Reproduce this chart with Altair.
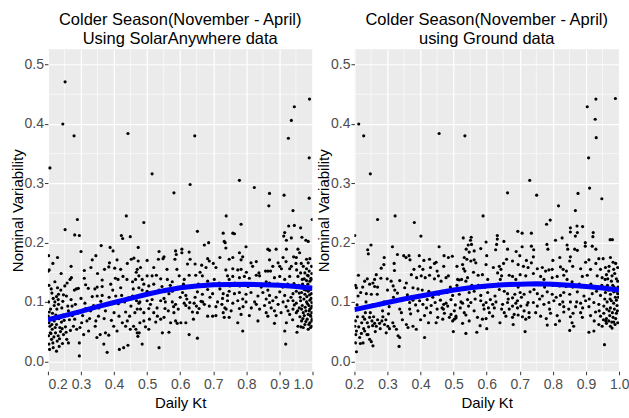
import altair as alt
import pandas as pd

# ---------------- data ----------------
title_left = ["Colder Season(November - April)", "Using SolarAnywhere data"]
title_right = ["Colder Season(November - April)", "using Ground data"]

x_ticks = [0.2, 0.3, 0.4, 0.5, 0.6, 0.7, 0.8, 0.9, 1.0]
y_ticks = [0.0, 0.1, 0.2, 0.3, 0.4, 0.5]
x_minor = [0.25, 0.35, 0.45, 0.55, 0.65, 0.75, 0.85, 0.95]
y_minor = [0.05, 0.15, 0.25, 0.35, 0.45]

fit_kt = [0.2, 0.25, 0.3, 0.35, 0.4, 0.45, 0.5, 0.55, 0.6, 0.65, 0.7, 0.75, 0.8, 0.85, 0.9, 0.95, 1.0]
sa_fit = [0.070, 0.077, 0.084, 0.092, 0.099, 0.106, 0.113, 0.119, 0.124, 0.127, 0.129, 0.1295, 0.1297, 0.129, 0.128, 0.126, 0.123]
gr_fit = [0.087, 0.093, 0.099, 0.105, 0.110, 0.115, 0.120, 0.124, 0.127, 0.129, 0.130, 0.1305, 0.130, 0.128, 0.126, 0.1235, 0.120]

sa_points = [
    (0.252, 0.471), (0.245, 0.40), (0.279, 0.38), (0.442, 0.384), (0.644, 0.38), (0.991, 0.442), (0.945, 0.429),
    (0.936, 0.406), (0.927, 0.376), (0.206, 0.326), (0.990, 0.343), (0.515, 0.316), (0.581, 0.284), (0.630, 0.298),
    (0.779, 0.305), (0.824, 0.293), (0.870, 0.283), (0.914, 0.280), (0.990, 0.275), (0.868, 0.262), (0.941, 0.254),
    (0.437, 0.245), (0.739, 0.245), (0.289, 0.239), (0.999, 0.239), (0.490, 0.234), (0.784, 0.231), (0.928, 0.228),
    (0.945, 0.229), (0.964, 0.225), (0.252, 0.222), (0.652, 0.219), (0.281, 0.213), (0.295, 0.212), (0.422, 0.212),
    (0.426, 0.207), (0.449, 0.21), (0.73, 0.216), (0.733, 0.202), (0.736, 0.2), (0.759, 0.216), (0.764, 0.215),
    (0.916, 0.217), (0.913, 0.211), (0.921, 0.204), (0.936, 0.208), (0.968, 0.209), (0.98, 0.204), (0.987, 0.202),
    (0.673, 0.196), (0.686, 0.2),
    (0.361, 0.195), (0.388, 0.192), (0.397, 0.186), (0.202, 0.178), (0.229, 0.175), (0.334, 0.171), (0.409, 0.171),
    (0.452, 0.172), (0.46, 0.174), (0.473, 0.169), (0.386, 0.166), (0.371, 0.155), (0.384, 0.159), (0.402, 0.157),
    (0.201, 0.152), (0.204, 0.154), (0.31, 0.153), (0.47, 0.155), (0.467, 0.15), (0.267, 0.138), (0.271, 0.141),
    (0.258, 0.132), (0.251, 0.127), (0.221, 0.134), (0.364, 0.137), (0.349, 0.125), (0.364, 0.126), (0.314, 0.129),
    (0.292, 0.123), (0.404, 0.14), (0.412, 0.138), (0.427, 0.143), (0.439, 0.138), (0.456, 0.134), (0.465, 0.138),
    (0.475, 0.144), (0.203, 0.128), (0.21, 0.122), (0.232, 0.113), (0.239, 0.12), (0.247, 0.112), (0.256, 0.11),
    (0.226, 0.109), (0.231, 0.104), (0.216, 0.106), (0.221, 0.1), (0.28, 0.12), (0.286, 0.122), (0.322, 0.123),
    (0.342, 0.122), (0.334, 0.109), (0.349, 0.11), (0.364, 0.111), (0.385, 0.108), (0.405, 0.11), (0.423, 0.111),
    (0.444, 0.107), (0.456, 0.11), (0.478, 0.1), (0.202, 0.1), (0.232, 0.096), (0.242, 0.09), (0.273, 0.093),
    (0.283, 0.096), (0.314, 0.089), (0.329, 0.085), (0.354, 0.09), (0.374, 0.085), (0.4, 0.082), (0.415, 0.076),
    (0.435, 0.083), (0.447, 0.076), (0.47, 0.088), (0.201, 0.076), (0.209, 0.072), (0.219, 0.068), (0.203, 0.065),
    (0.206, 0.059), (0.226, 0.062), (0.236, 0.057), (0.213, 0.054), (0.223, 0.048), (0.202, 0.043), (0.211, 0.037),
    (0.231, 0.043), (0.247, 0.045), (0.257, 0.037), (0.262, 0.031), (0.203, 0.029), (0.216, 0.023), (0.226, 0.017),
    (0.205, 0.02), (0.277, 0.059), (0.287, 0.054), (0.302, 0.065), (0.318, 0.068), (0.308, 0.045), (0.323, 0.051),
    (0.295, 0.031), (0.348, 0.04), (0.358, 0.045), (0.374, 0.048), (0.384, 0.044), (0.369, 0.029), (0.379, 0.015),
    (0.399, 0.059), (0.409, 0.051), (0.425, 0.065), (0.435, 0.059), (0.416, 0.02), (0.429, 0.023), (0.442, 0.027),
    (0.449, 0.054), (0.459, 0.059), (0.47, 0.048), (0.295, 0.009), (0.343, 0.059), (0.353, 0.076),
    (0.208, 0.088), (0.214, 0.081), (0.224, 0.078), (0.233, 0.072), (0.241, 0.066), (0.218, 0.041), (0.228, 0.034),
    (0.238, 0.05), (0.212, 0.062), (0.246, 0.078), (0.253, 0.058), (0.265, 0.07), (0.207, 0.048), (0.219, 0.094),
    (0.262, 0.085), (0.244, 0.03), (0.234, 0.025),
    (0.473, 0.192), (0.536, 0.185), (0.534, 0.172), (0.551, 0.176), (0.548, 0.173), (0.586, 0.186), (0.588, 0.18),
    (0.584, 0.172), (0.605, 0.189), (0.605, 0.183), (0.627, 0.184), (0.683, 0.173), (0.688, 0.169), (0.622, 0.164),
    (0.645, 0.164), (0.665, 0.162), (0.678, 0.158), (0.708, 0.158), (0.738, 0.154), (0.48, 0.158), (0.5, 0.144),
    (0.515, 0.144), (0.528, 0.145), (0.541, 0.139), (0.485, 0.138), (0.49, 0.13), (0.561, 0.138), (0.576, 0.134),
    (0.597, 0.144), (0.612, 0.138), (0.627, 0.145), (0.647, 0.145), (0.667, 0.144), (0.683, 0.135), (0.703, 0.138),
    (0.718, 0.132), (0.743, 0.144), (0.748, 0.138), (0.475, 0.124), (0.485, 0.12), (0.505, 0.127), (0.525, 0.116),
    (0.536, 0.12), (0.566, 0.114), (0.576, 0.118), (0.607, 0.116), (0.617, 0.111), (0.652, 0.117), (0.667, 0.113),
    (0.683, 0.121), (0.698, 0.114), (0.73, 0.114), (0.743, 0.111), (0.468, 0.102), (0.475, 0.098), (0.5, 0.102),
    (0.515, 0.104), (0.541, 0.102), (0.551, 0.106), (0.576, 0.1), (0.586, 0.096), (0.612, 0.098), (0.617, 0.094),
    (0.629, 0.099), (0.642, 0.098), (0.649, 0.093), (0.663, 0.101), (0.673, 0.096), (0.688, 0.093), (0.708, 0.092),
    (0.726, 0.096), (0.735, 0.09), (0.48, 0.088), (0.49, 0.082), (0.505, 0.089), (0.52, 0.082), (0.531, 0.076),
    (0.554, 0.089), (0.564, 0.085), (0.581, 0.082), (0.594, 0.088), (0.627, 0.09), (0.637, 0.083), (0.652, 0.082),
    (0.657, 0.089), (0.683, 0.076), (0.698, 0.076), (0.708, 0.077), (0.73, 0.082), (0.733, 0.074), (0.478, 0.065),
    (0.49, 0.068), (0.507, 0.071), (0.526, 0.066), (0.541, 0.071), (0.551, 0.074), (0.571, 0.065), (0.586, 0.068),
    (0.591, 0.064), (0.602, 0.065), (0.495, 0.058), (0.505, 0.054), (0.476, 0.048), (0.472, 0.042), (0.546, 0.048),
    (0.566, 0.049), (0.617, 0.065), (0.64, 0.071), (0.627, 0.045), (0.652, 0.039), (0.485, 0.029), (0.536, 0.023),
    (0.466, 0.054),
    (0.738, 0.191), (0.799, 0.193), (0.865, 0.189), (0.87, 0.187), (0.89, 0.189), (0.921, 0.189), (0.956, 0.189),
    (0.961, 0.183), (0.779, 0.183), (0.759, 0.175), (0.748, 0.172), (0.789, 0.176), (0.784, 0.171), (0.87, 0.171),
    (0.911, 0.175), (0.943, 0.176), (0.951, 0.175), (0.982, 0.172), (0.987, 0.166), (0.992, 0.173), (0.814, 0.166),
    (0.819, 0.16), (0.83, 0.168), (0.896, 0.166), (0.901, 0.16), (0.906, 0.156), (0.931, 0.156), (0.936, 0.16),
    (0.972, 0.16), (0.982, 0.156), (0.997, 0.16), (0.759, 0.156), (0.774, 0.154), (0.784, 0.155), (0.838, 0.149),
    (0.84, 0.144), (0.858, 0.152), (0.865, 0.152), (0.873, 0.152), (0.759, 0.143), (0.779, 0.141), (0.794, 0.143),
    (0.809, 0.14), (0.885, 0.141), (0.901, 0.143), (0.916, 0.138), (0.931, 0.143), (0.956, 0.143), (0.977, 0.149),
    (0.987, 0.144), (0.998, 0.148), (0.969, 0.138), (0.992, 0.135), (0.997, 0.138), (0.86, 0.134), (0.87, 0.132),
    (0.748, 0.118), (0.764, 0.114), (0.779, 0.116), (0.799, 0.113), (0.814, 0.116), (0.85, 0.116), (0.87, 0.111),
    (0.901, 0.117), (0.916, 0.111), (0.941, 0.114), (0.951, 0.118), (0.967, 0.116), (0.977, 0.113), (0.987, 0.118),
    (0.997, 0.114), (0.993, 0.121), (0.743, 0.102), (0.759, 0.098), (0.774, 0.102), (0.789, 0.105), (0.799, 0.1),
    (0.825, 0.1), (0.83, 0.096), (0.86, 0.105), (0.87, 0.099), (0.88, 0.102), (0.896, 0.096), (0.911, 0.1),
    (0.926, 0.102), (0.941, 0.102), (0.951, 0.098), (0.964, 0.102), (0.974, 0.105), (0.982, 0.1), (0.992, 0.103),
    (0.998, 0.099), (0.996, 0.106), (0.739, 0.088), (0.754, 0.085), (0.779, 0.089), (0.784, 0.079), (0.809, 0.077),
    (0.84, 0.088), (0.86, 0.082), (0.865, 0.076), (0.885, 0.085), (0.89, 0.077), (0.926, 0.085), (0.931, 0.079),
    (0.941, 0.088), (0.951, 0.082), (0.967, 0.088), (0.972, 0.082), (0.98, 0.085), (0.987, 0.079), (0.992, 0.088),
    (0.998, 0.082), (0.995, 0.076), (0.774, 0.065), (0.789, 0.051), (0.835, 0.068), (0.885, 0.064), (0.916, 0.051),
    (0.921, 0.065), (0.953, 0.049), (0.956, 0.059), (0.967, 0.068), (0.977, 0.062), (0.984, 0.071), (0.992, 0.065),
    (0.997, 0.059), (0.999, 0.071), (0.972, 0.057), (0.987, 0.054), (0.994, 0.057), (0.919, 0.029), (0.748, 0.074),
    (0.958, 0.128), (0.963, 0.108), (0.969, 0.094), (0.975, 0.121), (0.978, 0.091), (0.983, 0.109), (0.986, 0.13),
    (0.989, 0.094), (0.991, 0.112), (0.994, 0.125), (0.996, 0.09), (0.998, 0.068), (0.962, 0.075), (0.971, 0.072),
    (0.98, 0.067), (0.989, 0.062), (0.985, 0.097), (0.993, 0.078), (0.96, 0.09), (0.975, 0.139), (0.952, 0.154),
    (0.966, 0.165), (0.99, 0.152), (0.944, 0.131),
]

# points hidden in the densest part of the SolarAnywhere cloud (estimated)
sa_points_dense = [
    (0.204, 0.083), (0.209, 0.047), (0.215, 0.031), (0.222, 0.057), (0.227, 0.088), (0.235, 0.038), (0.243, 0.055),
    (0.249, 0.069), (0.255, 0.049), (0.26, 0.093), (0.268, 0.052), (0.274, 0.077), (0.281, 0.071), (0.29, 0.081),
    (0.297, 0.057), (0.212, 0.115), (0.229, 0.124), (0.245, 0.101), (0.27, 0.104), (0.3, 0.106), (0.305, 0.077),
    (0.312, 0.098), (0.326, 0.072), (0.338, 0.094), (0.345, 0.068), (0.36, 0.101), (0.37, 0.072), (0.381, 0.097),
    (0.392, 0.069), (0.396, 0.12), (0.413, 0.097), (0.42, 0.124), (0.432, 0.1), (0.44, 0.068), (0.451, 0.093),
    (0.458, 0.122), (0.463, 0.082), (0.31, 0.14), (0.33, 0.158), (0.35, 0.148), (0.39, 0.13), (0.42, 0.155),
    (0.44, 0.165), (0.345, 0.178), (0.3, 0.185), (0.27, 0.16), (0.24, 0.148), (0.215, 0.165),
    (0.5, 0.118), (0.51, 0.096), (0.52, 0.13), (0.53, 0.09), (0.545, 0.126), (0.555, 0.1), (0.57, 0.128),
    (0.58, 0.092), (0.59, 0.122), (0.6, 0.108), (0.61, 0.13), (0.62, 0.105), (0.635, 0.126), (0.645, 0.108),
    (0.655, 0.13), (0.668, 0.1), (0.675, 0.127), (0.69, 0.108), (0.7, 0.13), (0.713, 0.1), (0.72, 0.122),
    (0.728, 0.106), (0.56, 0.155), (0.59, 0.155), (0.63, 0.172), (0.66, 0.15), (0.7, 0.165), (0.72, 0.175),
    (0.52, 0.158), (0.5, 0.17),
    (0.75, 0.127), (0.765, 0.132), (0.78, 0.127), (0.79, 0.092), (0.805, 0.126), (0.815, 0.09), (0.825, 0.13),
    (0.835, 0.11), (0.845, 0.125), (0.855, 0.094), (0.865, 0.12), (0.875, 0.09), (0.88, 0.128), (0.89, 0.108),
    (0.895, 0.13), (0.905, 0.082), (0.91, 0.125), (0.92, 0.092), (0.925, 0.13), (0.935, 0.108), (0.94, 0.07),
    (0.945, 0.095), (0.95, 0.125), (0.955, 0.085), (0.96, 0.115), (0.965, 0.058), (0.97, 0.13), (0.975, 0.077),
    (0.98, 0.12), (0.985, 0.145), (0.99, 0.085), (0.995, 0.14), (0.999, 0.093), (0.964, 0.149), (0.982, 0.136),
    (0.8, 0.15), (0.83, 0.145), (0.88, 0.16), (0.92, 0.168), (0.95, 0.165),
]

gr_points = [
    (0.213, 0.40), (0.228, 0.38), (0.456, 0.384), (0.534, 0.38), (0.904, 0.429), (0.93, 0.442), (0.989, 0.443),
    (0.928, 0.408), (0.931, 0.377), (0.908, 0.343), (0.248, 0.316), (0.73, 0.305), (0.911, 0.292), (0.663, 0.284),
    (0.876, 0.283), (0.751, 0.28), (0.948, 0.274), (0.817, 0.262), (0.868, 0.254), (0.27, 0.239), (0.323, 0.245),
    (0.589, 0.245), (0.381, 0.234), (0.792, 0.238), (0.781, 0.231), (0.873, 0.228), (0.89, 0.227), (0.853, 0.225),
    (0.853, 0.218), (0.921, 0.21), (0.201, 0.212), (0.401, 0.211), (0.632, 0.212), (0.632, 0.206), (0.694, 0.219),
    (0.707, 0.216), (0.735, 0.216), (0.553, 0.209), (0.551, 0.204), (0.529, 0.208), (0.808, 0.204), (0.874, 0.217),
    (0.868, 0.211), (0.98, 0.205), (0.315, 0.193), (0.24, 0.188), (0.242, 0.181), (0.25, 0.196), (0.456, 0.193),
    (0.538, 0.189), (0.544, 0.196), (0.554, 0.197), (0.63, 0.197), (0.627, 0.188), (0.652, 0.202), (0.707, 0.193),
    (0.689, 0.185), (0.735, 0.194), (0.742, 0.188), (0.782, 0.197), (0.785, 0.189), (0.843, 0.196), (0.845, 0.189),
    (0.866, 0.189), (0.898, 0.2), (0.898, 0.194), (0.93, 0.189), (0.973, 0.205), (0.349, 0.178), (0.356, 0.175),
    (0.365, 0.178), (0.368, 0.171), (0.396, 0.178), (0.471, 0.178), (0.484, 0.175), (0.496, 0.177),
    (0.828, 0.208), (0.874, 0.187), (0.919, 0.194), (0.922, 0.217),
    (0.821, 0.175), (0.853, 0.176), (0.851, 0.169), (0.899, 0.167), (0.909, 0.171), (0.939, 0.173), (0.952, 0.173),
    (0.974, 0.175), (0.982, 0.167), (0.741, 0.176), (0.753, 0.156), (0.768, 0.158), (0.778, 0.152), (0.788, 0.154),
    (0.798, 0.155), (0.823, 0.159), (0.831, 0.155), (0.841, 0.152), (0.884, 0.156), (0.914, 0.155), (0.944, 0.155),
    (0.959, 0.158), (0.969, 0.152), (0.984, 0.155), (0.996, 0.158), (0.763, 0.143), (0.773, 0.138), (0.798, 0.141),
    (0.813, 0.143), (0.833, 0.145), (0.843, 0.138), (0.858, 0.134), (0.889, 0.143), (0.904, 0.145), (0.934, 0.144),
    (0.949, 0.141), (0.966, 0.139), (0.979, 0.144), (0.992, 0.139), (0.996, 0.135), (0.743, 0.121), (0.753, 0.114),
    (0.768, 0.11), (0.783, 0.117), (0.798, 0.113), (0.823, 0.111), (0.833, 0.116), (0.851, 0.113), (0.874, 0.117),
    (0.894, 0.11), (0.919, 0.114), (0.932, 0.118), (0.944, 0.111), (0.959, 0.116), (0.974, 0.113), (0.984, 0.117),
    (0.996, 0.114), (0.741, 0.099), (0.753, 0.093), (0.773, 0.096), (0.788, 0.099), (0.803, 0.102), (0.821, 0.096),
    (0.833, 0.092), (0.853, 0.1), (0.869, 0.092), (0.884, 0.098), (0.899, 0.102), (0.909, 0.092), (0.924, 0.099),
    (0.939, 0.096), (0.954, 0.093), (0.964, 0.1), (0.974, 0.09), (0.984, 0.098), (0.992, 0.103), (0.748, 0.082),
    (0.763, 0.076), (0.793, 0.081), (0.813, 0.077), (0.833, 0.083), (0.853, 0.075), (0.861, 0.081), (0.884, 0.082),
    (0.889, 0.074), (0.914, 0.077), (0.929, 0.083), (0.944, 0.076), (0.954, 0.081), (0.962, 0.072), (0.972, 0.077),
    (0.982, 0.074), (0.992, 0.081), (0.783, 0.061), (0.808, 0.062), (0.858, 0.065), (0.863, 0.059), (0.909, 0.049),
    (0.924, 0.051), (0.851, 0.052), (0.939, 0.062), (0.949, 0.059), (0.962, 0.064), (0.974, 0.059), (0.984, 0.066),
    (0.996, 0.065), (0.956, 0.028), (0.969, 0.068), (0.979, 0.056),
    (0.427, 0.172), (0.442, 0.165), (0.447, 0.167), (0.289, 0.163), (0.281, 0.157), (0.266, 0.146), (0.261, 0.138),
    (0.321, 0.153), (0.397, 0.16), (0.407, 0.155), (0.203, 0.128), (0.206, 0.124), (0.231, 0.135), (0.239, 0.139),
    (0.246, 0.13), (0.256, 0.132), (0.261, 0.126), (0.219, 0.116), (0.211, 0.11), (0.236, 0.114), (0.251, 0.113),
    (0.269, 0.113), (0.299, 0.139), (0.311, 0.135), (0.337, 0.136), (0.317, 0.127), (0.322, 0.12), (0.357, 0.132),
    (0.352, 0.124), (0.377, 0.124), (0.392, 0.122), (0.402, 0.144), (0.414, 0.141), (0.427, 0.145), (0.442, 0.139),
    (0.454, 0.144), (0.462, 0.135), (0.342, 0.102), (0.367, 0.099), (0.377, 0.103), (0.397, 0.102), (0.407, 0.096),
    (0.42, 0.104), (0.432, 0.094), (0.444, 0.099), (0.46, 0.103), (0.47, 0.096), (0.337, 0.088), (0.342, 0.082),
    (0.367, 0.088), (0.392, 0.085), (0.412, 0.077), (0.43, 0.082), (0.452, 0.074), (0.226, 0.075), (0.231, 0.071),
    (0.239, 0.065), (0.246, 0.074), (0.253, 0.068), (0.261, 0.064), (0.266, 0.059), (0.276, 0.064), (0.283, 0.068),
    (0.291, 0.062), (0.301, 0.059), (0.203, 0.068), (0.201, 0.059), (0.206, 0.051), (0.221, 0.047), (0.231, 0.051),
    (0.241, 0.045), (0.216, 0.04), (0.203, 0.031), (0.226, 0.031), (0.246, 0.037), (0.251, 0.033), (0.206, 0.016),
    (0.256, 0.026), (0.316, 0.065), (0.32, 0.059), (0.327, 0.054), (0.332, 0.043), (0.337, 0.04), (0.335, 0.025),
    (0.357, 0.062), (0.362, 0.057), (0.377, 0.059), (0.387, 0.054), (0.412, 0.04), (0.424, 0.065), (0.447, 0.065),
    (0.467, 0.071), (0.296, 0.048), (0.306, 0.055), (0.29, 0.1), (0.305, 0.092), (0.318, 0.108), (0.275, 0.095),
    (0.285, 0.085), (0.208, 0.095), (0.215, 0.088), (0.372, 0.146), (0.388, 0.141),
    (0.547, 0.184), (0.562, 0.186), (0.582, 0.19), (0.598, 0.201), (0.663, 0.189), (0.532, 0.175), (0.54, 0.172),
    (0.552, 0.169), (0.562, 0.171), (0.567, 0.166), (0.527, 0.163), (0.53, 0.156), (0.534, 0.152), (0.598, 0.163),
    (0.638, 0.16), (0.643, 0.155), (0.651, 0.165), (0.678, 0.169), (0.695, 0.163), (0.711, 0.16), (0.725, 0.158),
    (0.735, 0.166), (0.477, 0.141), (0.484, 0.144), (0.512, 0.138), (0.517, 0.137), (0.524, 0.138), (0.537, 0.135),
    (0.542, 0.141), (0.574, 0.145), (0.587, 0.146), (0.603, 0.138), (0.633, 0.149), (0.641, 0.138), (0.645, 0.144),
    (0.668, 0.145), (0.678, 0.143), (0.688, 0.138), (0.701, 0.146), (0.718, 0.144), (0.741, 0.148), (0.467, 0.118),
    (0.48, 0.116), (0.497, 0.111), (0.517, 0.113), (0.547, 0.116), (0.562, 0.118), (0.582, 0.111), (0.603, 0.116),
    (0.638, 0.121), (0.653, 0.118), (0.663, 0.114), (0.678, 0.107), (0.701, 0.116), (0.713, 0.113), (0.731, 0.117),
    (0.477, 0.098), (0.492, 0.104), (0.522, 0.1), (0.527, 0.098), (0.542, 0.104), (0.552, 0.099), (0.582, 0.102),
    (0.598, 0.099), (0.611, 0.104), (0.618, 0.096), (0.628, 0.1), (0.648, 0.096), (0.663, 0.099), (0.678, 0.093),
    (0.688, 0.098), (0.693, 0.102), (0.703, 0.093), (0.725, 0.099), (0.482, 0.093), (0.469, 0.088), (0.502, 0.085),
    (0.507, 0.076), (0.492, 0.079), (0.532, 0.082), (0.562, 0.085), (0.592, 0.088), (0.608, 0.082), (0.623, 0.09),
    (0.653, 0.082), (0.668, 0.088), (0.683, 0.079), (0.693, 0.09), (0.713, 0.085), (0.728, 0.082), (0.502, 0.071),
    (0.497, 0.068), (0.507, 0.073), (0.487, 0.074), (0.547, 0.068), (0.527, 0.064), (0.537, 0.078), (0.572, 0.074),
    (0.587, 0.071), (0.598, 0.072), (0.618, 0.076), (0.658, 0.076), (0.678, 0.074), (0.695, 0.078), (0.708, 0.075),
    (0.718, 0.071), (0.728, 0.074), (0.499, 0.05), (0.537, 0.047), (0.57, 0.049), (0.716, 0.05), (0.472, 0.081),
    (0.957, 0.105), (0.965, 0.128), (0.97, 0.085), (0.977, 0.102), (0.981, 0.128), (0.986, 0.088), (0.989, 0.108),
    (0.994, 0.094), (0.997, 0.125), (0.96, 0.068), (0.978, 0.066), (0.99, 0.072), (0.962, 0.146), (0.987, 0.148),
]

# points hidden in the densest part of the ground-data cloud (estimated)
gr_points_dense = [
    (0.204, 0.045), (0.209, 0.075), (0.213, 0.058), (0.218, 0.03), (0.222, 0.065), (0.228, 0.055), (0.233, 0.082),
    (0.238, 0.045), (0.243, 0.058), (0.248, 0.082), (0.255, 0.06), (0.258, 0.075), (0.263, 0.05), (0.27, 0.07),
    (0.278, 0.055), (0.286, 0.075), (0.295, 0.07), (0.303, 0.08), (0.212, 0.145), (0.225, 0.125), (0.235, 0.1),
    (0.255, 0.095), (0.27, 0.125), (0.28, 0.14), (0.3, 0.12), (0.33, 0.115), (0.345, 0.07), (0.36, 0.112),
    (0.37, 0.08), (0.385, 0.095), (0.4, 0.07), (0.405, 0.12), (0.418, 0.09), (0.425, 0.118), (0.437, 0.108),
    (0.45, 0.088), (0.455, 0.113), (0.465, 0.09), (0.32, 0.165), (0.33, 0.18), (0.38, 0.155), (0.41, 0.17),
    (0.43, 0.158), (0.45, 0.152), (0.47, 0.16), (0.29, 0.175),
    (0.49, 0.125), (0.505, 0.095), (0.51, 0.128), (0.52, 0.09), (0.535, 0.122), (0.545, 0.093), (0.555, 0.128),
    (0.565, 0.105), (0.575, 0.128), (0.59, 0.095), (0.595, 0.125), (0.605, 0.09), (0.615, 0.128), (0.625, 0.11),
    (0.635, 0.13), (0.645, 0.088), (0.655, 0.128), (0.665, 0.105), (0.675, 0.13), (0.685, 0.113), (0.695, 0.125),
    (0.705, 0.108), (0.715, 0.13), (0.722, 0.095), (0.732, 0.13), (0.51, 0.16), (0.56, 0.15), (0.6, 0.178),
    (0.62, 0.158), (0.66, 0.172), (0.7, 0.178), (0.72, 0.17), (0.58, 0.06), (0.64, 0.065), (0.68, 0.062),
    (0.6, 0.055),
    (0.75, 0.13), (0.76, 0.105), (0.775, 0.125), (0.79, 0.088), (0.8, 0.128), (0.81, 0.108), (0.82, 0.127),
    (0.83, 0.1), (0.84, 0.126), (0.848, 0.088), (0.86, 0.125), (0.872, 0.1), (0.88, 0.13), (0.89, 0.09),
    (0.9, 0.125), (0.91, 0.105), (0.915, 0.13), (0.925, 0.068), (0.935, 0.125), (0.94, 0.085), (0.948, 0.128),
    (0.953, 0.07), (0.958, 0.138), (0.963, 0.088), (0.968, 0.12), (0.973, 0.105), (0.977, 0.135), (0.98, 0.082),
    (0.985, 0.125), (0.988, 0.062), (0.992, 0.118), (0.995, 0.085), (0.998, 0.108), (0.97, 0.16), (0.99, 0.165),
    (0.8, 0.17), (0.86, 0.16), (0.93, 0.165), (0.78, 0.072), (0.82, 0.068),
]

# ---------------- chart ----------------
X_DOMAIN = [0.2, 1.0]
Y_DOMAIN = [-0.0168, 0.526]


def panel(points, fit, title, flush):
    pts = pd.DataFrame(points, columns=["kt", "nv"])
    fitdf = pd.DataFrame({"kt": fit_kt, "nv": fit})
    xs = alt.Scale(domain=X_DOMAIN, nice=False, zero=False)
    ys = alt.Scale(domain=Y_DOMAIN, nice=False, zero=False)
    x_axis_kw = dict(values=x_ticks, format=".1f", title="Daily Kt", titlePadding=4, labelPadding=3)
    if flush:
        x_axis_kw.update(labelFlush=True, labelFlushOffset=10)
    xax = alt.Axis(**x_axis_kw)
    yax = alt.Axis(values=y_ticks, format=".1f", title="Nominal Variability", titlePadding=-1)
    xenc = alt.X("kt:Q", scale=xs, axis=xax)
    yenc = alt.Y("nv:Q", scale=ys, axis=yax)

    vminor = alt.Chart(pd.DataFrame({"kt": x_minor})).mark_rule(
        color="white", strokeWidth=0.6).encode(x=xenc)
    hminor = alt.Chart(pd.DataFrame({"nv": y_minor})).mark_rule(
        color="white", strokeWidth=0.6).encode(y=yenc)
    dots = alt.Chart(pts).mark_circle(size=10, color="black", opacity=1, clip=True).encode(x=xenc, y=yenc)
    line = alt.Chart(fitdf).mark_line(color="#0000ff", strokeWidth=5, clip=True).encode(x=xenc, y=yenc)
    return alt.layer(vminor, hminor, dots, line).properties(
        width=265, height=322.5,
        title=alt.TitleParams(text=title, fontSize=16.5, fontWeight="normal", color="black",
                              anchor="middle", lineHeight=19, offset=1),
    )


left = panel(sa_points + sa_points_dense, sa_fit, title_left, False)
right = panel(gr_points + gr_points_dense, gr_fit, title_right, True)

chart = alt.hconcat(left, right, spacing=42, bounds="flush").configure(
    padding={"left": 10, "top": 12, "right": 0, "bottom": 0},
    font="Liberation Sans",
).configure_view(
    fill="#EBEBEB", strokeWidth=0,
).configure_axis(
    domain=False, grid=True, gridColor="white", gridWidth=1.2,
    labelFont="Liberation Sans", labelFontSize=14, labelColor="#4D4D4D", labelPadding=1,
    tickColor="#333333", tickSize=3.5, tickWidth=1,
    titleFont="Liberation Sans", titleFontSize=15, titleFontWeight="normal", titleColor="black",
    labelOverlap=False,
)

chart.save("out.html", embed_options={"renderer": "svg", "actions": False})
